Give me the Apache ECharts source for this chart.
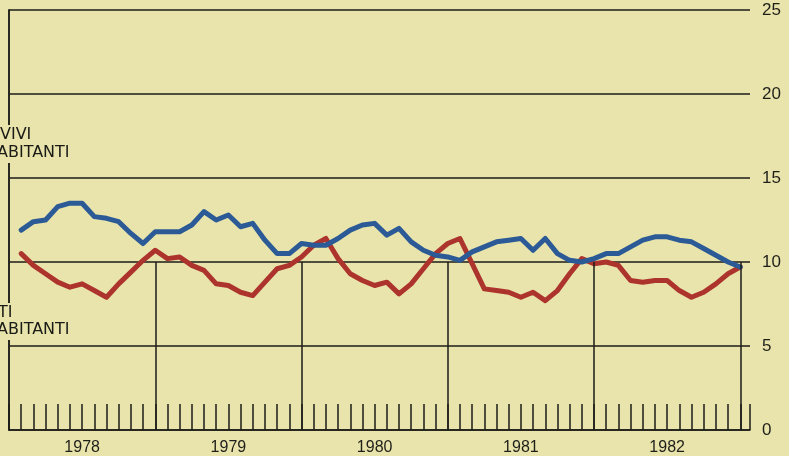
<!DOCTYPE html>
<html>
<head>
<meta charset="utf-8">
<script src="https://cdn.jsdelivr.net/npm/echarts@6/dist/echarts.min.js"></script>
<style>
html,body{margin:0;padding:0;background:#e8e4ab;}
#c{width:789px;height:456px;}
</style>
</head>
<body>
<div id="c"></div>
<script>
// month index 1..60 (Jan 1978 .. Dec 1982)
const years = ['1978', '1979', '1980', '1981', '1982'];
const yearBounds = [12, 24, 36, 48, 60];
const yTicks = [0, 5, 10, 15, 20, 25];
// births per 1000 inhabitants (blue)
const births = [
  11.9, 12.4, 12.5, 13.3, 13.5, 13.5, 12.7, 12.6, 12.4, 11.7, 11.1, 11.8,
  11.8, 11.8, 12.2, 13.0, 12.5, 12.8, 12.1, 12.3, 11.3, 10.5, 10.5, 11.1,
  11.0, 11.0, 11.4, 11.9, 12.2, 12.3, 11.6, 12.0, 11.2, 10.7, 10.4, 10.3,
  10.1, 10.6, 10.9, 11.2, 11.3, 11.4, 10.7, 11.4, 10.5, 10.1, 10.0, 10.2,
  10.5, 10.5, 10.9, 11.3, 11.5, 11.5, 11.3, 11.2, 10.8, 10.4, 10.0, 9.7
];
// deaths per 1000 inhabitants (red)
const deaths = [
  10.5, 9.8, 9.3, 8.8, 8.5, 8.7, 8.3, 7.9, 8.7, 9.4, 10.1, 10.7,
  10.2, 10.3, 9.8, 9.5, 8.7, 8.6, 8.2, 8.0, 8.8, 9.6, 9.8, 10.3,
  11.0, 11.4, 10.2, 9.3, 8.9, 8.6, 8.8, 8.1, 8.7, 9.6, 10.5, 11.1,
  11.4, 9.9, 8.4, 8.3, 8.2, 7.9, 8.2, 7.7, 8.3, 9.3, 10.2, 9.9,
  10.0, 9.8, 8.9, 8.8, 8.9, 8.9, 8.3, 7.9, 8.2, 8.7, 9.3, 9.7
];

const ink = '#1c1c18';
const bg = '#e8e4ab';
const toPairs = arr => arr.map((v, i) => [i + 1, v]);

const chart = echarts.init(document.getElementById('c'), null, {renderer: 'canvas'});
const labelStyle = {fontSize: 16, fontFamily: 'DejaVu Sans', fill: '#1a1a16', backgroundColor: bg, padding: [2, 3, 2, 0]};
chart.setOption({
  backgroundColor: bg,
  animation: false,
  grid: {left: 9, right: 39, top: 10, bottom: 26},
  xAxis: {
    type: 'value', min: 0, max: 60.8, interval: 1,
    axisLine: {show: true, lineStyle: {color: ink, width: 1.5}},
    axisTick: {show: true, inside: true, length: 26, lineStyle: {color: ink, width: 1.5}},
    splitLine: {show: false},
    axisLabel: {
      margin: 10, fontSize: 16, color: '#1f1f1a', fontFamily: 'Liberation Sans',
      showMinLabel: true, showMaxLabel: true,
      formatter: v => (v % 12 === 6 ? years[Math.floor(v / 12)] : '')
    }
  },
  yAxis: [{
    type: 'value', position: 'right', min: 0, max: 25, interval: 5,
    axisLine: {show: true, lineStyle: {color: ink, width: 1.5}},
    axisTick: {show: false},
    splitLine: {show: true, lineStyle: {color: ink, width: 1.5}},
    axisLabel: {
      margin: 12, fontSize: 17, color: '#1f1f1a', fontFamily: 'Liberation Sans',
      formatter: v => (yTicks.indexOf(v) >= 0 ? String(v) : '')
    }
  }, {
    type: 'value', position: 'left', min: 0, max: 25, interval: 5,
    axisLine: {show: true, lineStyle: {color: ink, width: 1.5}},
    axisTick: {show: false}, axisLabel: {show: false}, splitLine: {show: false}
  }],
  series: [{
    name: 'Morti', type: 'line', data: toPairs(deaths), symbol: 'none', z: 3,
    lineStyle: {color: '#ad332d', width: 5, cap: 'round', join: 'round'},
    markLine: {
      silent: true, symbol: 'none', label: {show: false},
      lineStyle: {color: ink, width: 1.5, type: 'solid'},
      data: yearBounds.map(b => [{coord: [b, 0]}, {coord: [b, 10]}])
    }
  }, {
    name: 'Nati vivi', type: 'line', data: toPairs(births), symbol: 'none', z: 4,
    lineStyle: {color: '#2b5a96', width: 5, cap: 'round', join: 'round'}
  }],
  graphic: [
    {type: 'text', left: 0, top: 125, z: 10, style: Object.assign({text: 'VIVI'}, labelStyle)},
    {type: 'text', left: -3, top: 143, z: 10, style: Object.assign({text: 'ABITANTI'}, labelStyle)},
    {type: 'text', left: -2, top: 303, z: 10, style: Object.assign({text: 'TI'}, labelStyle)},
    {type: 'text', left: -3, top: 320, z: 10, style: Object.assign({text: 'ABITANTI'}, labelStyle)}
  ]
});
</script>
</body>
</html>
